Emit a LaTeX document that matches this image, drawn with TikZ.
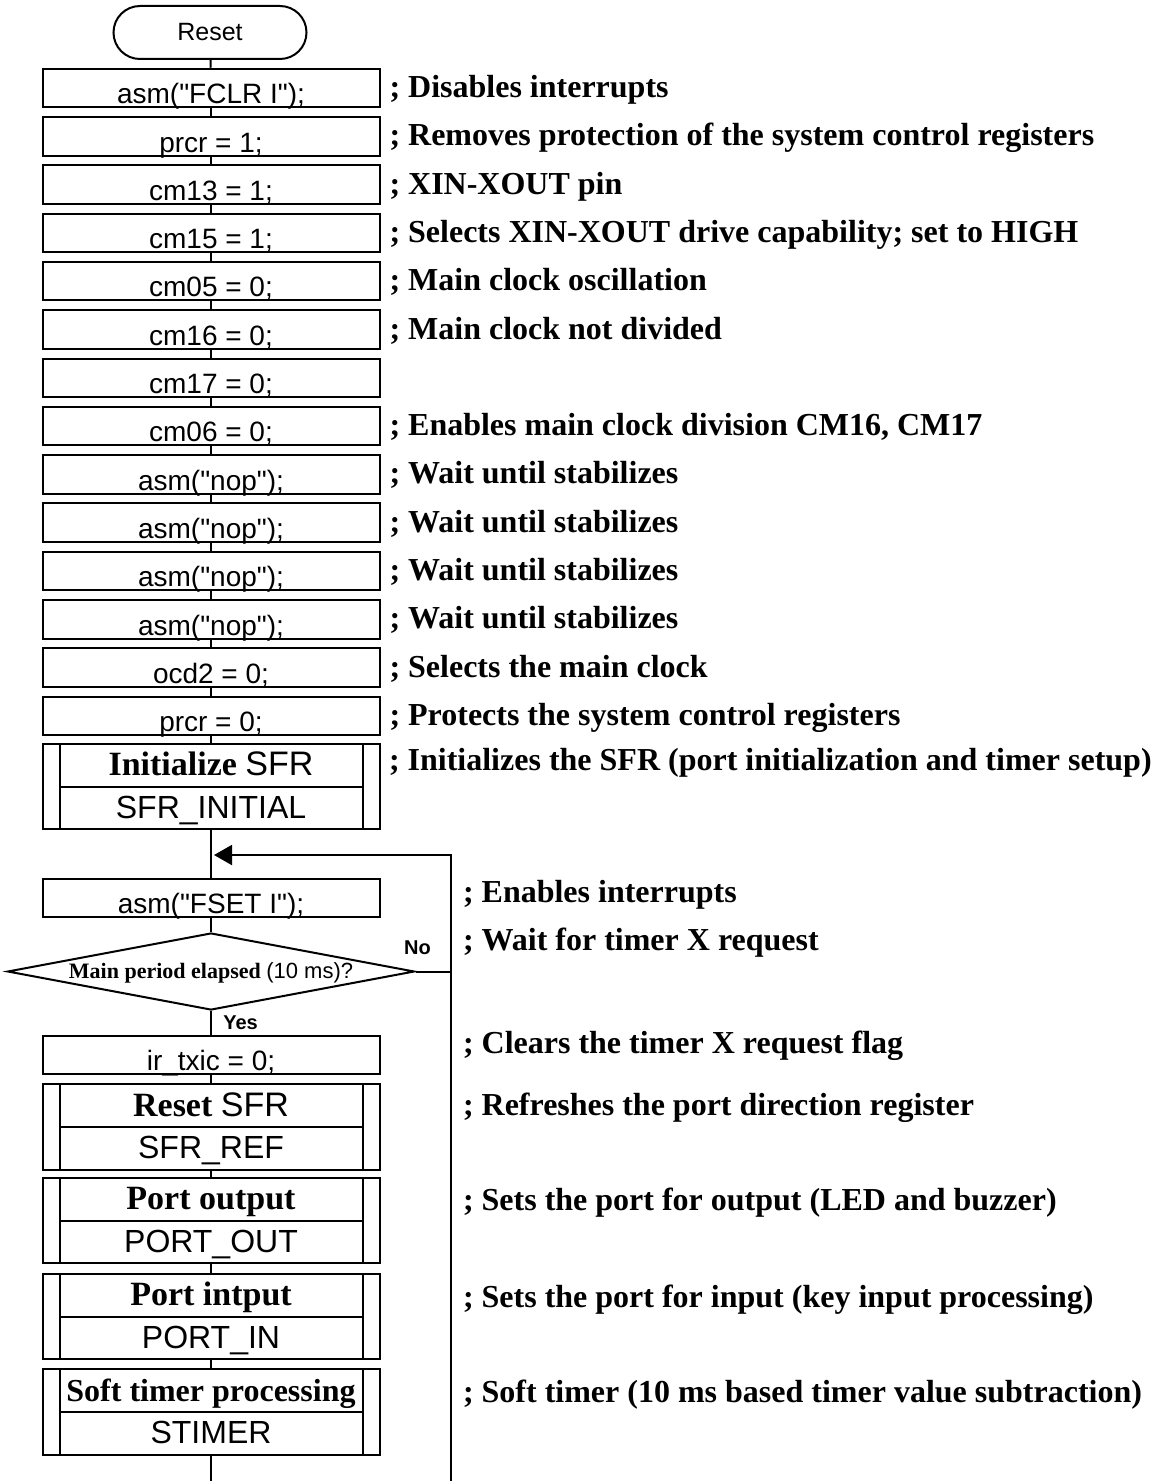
\documentclass[tikz,border=0pt]{standalone}
\usepackage{fontspec}
\setmainfont{Liberation Serif}
\setsansfont{Liberation Sans}[Ligatures=TeXOff]
\usetikzlibrary{arrows.meta,shapes.geometric}

\begin{document}
\begin{tikzpicture}[x=0.5pt,y=-0.5pt,line width=1pt,
    paso/.style={draw,minimum width=168.5pt,minimum height=19.25pt,
        inner xsep=0pt,inner ysep=1.75pt,text height=15.75pt,text depth=0pt,
        font=\sffamily\fontsize{14}{16}\selectfont},
    sub/.style={draw,minimum width=168.5pt,minimum height=42.75pt,inner sep=0pt,
        path picture={
            \draw ([xshift=8.5pt]path picture bounding box.north west)
                -- ([xshift=8.5pt]path picture bounding box.south west);
            \draw ([xshift=-8.5pt]path picture bounding box.north east)
                -- ([xshift=-8.5pt]path picture bounding box.south east);
            \draw ([xshift=8.5pt]path picture bounding box.west)
                -- ([xshift=-8.5pt]path picture bounding box.east);
        }},
    subtxt/.style={anchor=base,inner sep=0pt},
    coment/.style={anchor=base west,inner sep=0pt,
        font=\bfseries\fontsize{16}{19}\selectfont},
    rama/.style={inner sep=0pt,font=\sffamily\bfseries\fontsize{10}{12}\selectfont},
    flecha/.style={-{Triangle[length=9pt,width=10pt]}}]
    \useasboundingbox (0,0) rectangle (1161,1481);
    % Inicio
    \node[draw,rounded corners=13.25pt,minimum width=96.5pt,minimum height=26.5pt,
        font=\sffamily\fontsize{12.5}{15}\selectfont] (inicio) at (210,32.5) {Reset};
    % Configuracion del reloj
    \foreach \i/\txt in {1/{asm("FCLR I");},2/{prcr = 1;},3/{cm13 = 1;},
        4/{cm15 = 1;},5/{cm05 = 0;},6/{cm16 = 0;},7/{cm17 = 0;},8/{cm06 = 0;},
        9/{asm("nop");},10/{asm("nop");},11/{asm("nop");},12/{asm("nop");},
        13/{ocd2 = 0;},14/{prcr = 0;}}
    \node[paso] (p\i) at (211,{88+48.3*(\i-1)}) {\txt};
    \draw (inicio) -- (p1);
    \foreach \i [count=\j from 2] in {1,...,13}
    \draw (p\i) -- (p\j);
    \foreach \i/\txt in {1/{; Disables interrupts},
        2/{; Removes protection of the system control registers},
        3/{; XIN-XOUT pin},
        4/{; Selects XIN-XOUT drive capability; set to HIGH},
        5/{; Main clock oscillation},6/{; Main clock not divided},
        8/{; Enables main clock division CM16, CM17},
        9/{; Wait until stabilizes},10/{; Wait until stabilizes},
        11/{; Wait until stabilizes},12/{; Wait until stabilizes},
        13/{; Selects the main clock},
        14/{; Protects the system control registers}}
    \node[coment] (c\i) at ([xshift=4pt,yshift=-4.75pt]p\i.east) {\txt};
    % Subrutinas
    \foreach \n/\y/\s/\a/\b in {ini/786.5/17/{\textbf{Initialize} \textsf{SFR}}/{SFR\_INITIAL},
        ref/1127/17/{\textbf{Reset} \textsf{SFR}}/{SFR\_REF},
        pout/1220.5/17/{\textbf{Port output}}/{PORT\_OUT},
        pin/1316.5/17/{\textbf{Port intput}}/{PORT\_IN},
        tim/1412/16/{\textbf{Soft timer processing}}/{STIMER}}
    {
        \node[sub] (\n) at (211,\y) {};
        \node[subtxt,font=\fontsize{\s}{19}\selectfont] (\n-a)
            at ([yshift=5.4pt]\n.center) {\a};
        \node[subtxt,font=\sffamily\fontsize{16}{19}\selectfont] (\n-b)
            at ([yshift=-15.9pt]\n.center) {\b};
    }
    \node[coment] (c15) at (388,770)
        {; Initializes the SFR (port initialization and timer setup)};
    % Lazo principal
    \node[paso] (fset) at (211,898) {asm("FSET I");};
    \node[diamond,draw,minimum width=203.5pt,minimum height=38.5pt,inner sep=0pt]
        (espera) at (211,971.5) {};
    \node[anchor=base,inner sep=0pt,font=\fontsize{11}{13}\selectfont] (pregunta)
        at ([yshift=-3.25pt]espera.center)
        {\textbf{Main period elapsed} \textsf{(10 ms)?}};
    \node[paso] (clr) at (211,1055) {ir\_txic = 0;};
    \coordinate (ret) at (211,855);
    \coordinate (fin) at (211,1481);
    \coordinate (lazo) at (451,1481);
    \draw (p14) -- (ini);
    \draw (ini) -- (fset);
    \draw (fset) -- (espera);
    \draw (espera) -- (clr);
    \draw (clr) -- (ref);
    \draw (ref) -- (pout);
    \draw (pout) -- (pin);
    \draw (pin) -- (tim);
    \draw (tim) -- (fin);
    \draw (espera.east) -- (espera.east -| lazo);
    \draw[flecha] (lazo) |- ([xshift=1.5pt]ret);
    \node[rama] (lno) at (417.5,948) {No};
    \node[rama] (lyes) at (240.5,1023) {Yes};
    % Comentarios del lazo
    \foreach \k/\y/\txt in {1/902/{; Enables interrupts},
        2/950/{; Wait for timer X request},
        3/1053/{; Clears the timer X request flag},
        4/1115/{; Refreshes the port direction register},
        5/1210/{; Sets the port for output (LED and buzzer)},
        6/1307/{; Sets the port for input (key input processing)},
        7/1402/{; Soft timer (10 ms based timer value subtraction)}}
    \node[coment] (d\k) at (462,\y) {\txt};
\end{tikzpicture}
\end{document}
